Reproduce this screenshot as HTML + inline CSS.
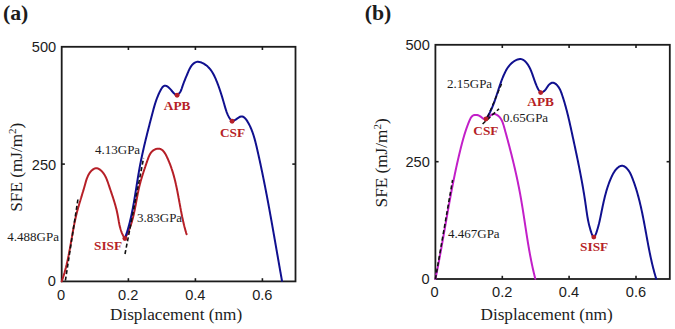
<!DOCTYPE html>
<html><head><meta charset="utf-8"><style>
html,body{margin:0;padding:0;background:#fff;}
body{width:675px;height:329px;overflow:hidden;}
svg{display:block;}
</style></head><body>
<svg width="675" height="329" viewBox="0 0 675 329">
<rect width="675" height="329" fill="#fff"/>
<text x="2.9" y="20.2" font-family="&quot;Liberation Serif&quot;, serif" font-size="21.8" font-weight="bold" text-anchor="start" fill="#1c1c1c" >(a)</text>
<text x="364.7" y="20.2" font-family="&quot;Liberation Serif&quot;, serif" font-size="21.8" font-weight="bold" text-anchor="start" fill="#1c1c1c" >(b)</text>
<rect x="61.7" y="46.8" width="233.80" height="234.60" fill="none" stroke="#1c1c1c" stroke-width="1.8"/>
<line x1="61.7" y1="164.1" x2="64.9" y2="164.1" stroke="#1c1c1c" stroke-width="1.6"/>
<line x1="295.5" y1="164.1" x2="292.3" y2="164.1" stroke="#1c1c1c" stroke-width="1.6"/>
<line x1="128.4" y1="281.4" x2="128.4" y2="278.2" stroke="#1c1c1c" stroke-width="1.6"/>
<line x1="128.4" y1="46.8" x2="128.4" y2="50.0" stroke="#1c1c1c" stroke-width="1.6"/>
<line x1="195.4" y1="281.4" x2="195.4" y2="278.2" stroke="#1c1c1c" stroke-width="1.6"/>
<line x1="195.4" y1="46.8" x2="195.4" y2="50.0" stroke="#1c1c1c" stroke-width="1.6"/>
<line x1="262.4" y1="281.4" x2="262.4" y2="278.2" stroke="#1c1c1c" stroke-width="1.6"/>
<line x1="262.4" y1="46.8" x2="262.4" y2="50.0" stroke="#1c1c1c" stroke-width="1.6"/>
<text x="56.2" y="51.7" font-family="&quot;Liberation Sans&quot;, sans-serif" font-size="14.6" font-weight="normal" text-anchor="end" fill="#1c1c1c" >500</text>
<text x="56.2" y="169.5" font-family="&quot;Liberation Sans&quot;, sans-serif" font-size="14.6" font-weight="normal" text-anchor="end" fill="#1c1c1c" >250</text>
<text x="55.8" y="286.3" font-family="&quot;Liberation Sans&quot;, sans-serif" font-size="14.6" font-weight="normal" text-anchor="end" fill="#1c1c1c" >0</text>
<text x="61.0" y="299.6" font-family="&quot;Liberation Sans&quot;, sans-serif" font-size="14.6" font-weight="normal" text-anchor="middle" fill="#1c1c1c" >0</text>
<text x="128.2" y="299.6" font-family="&quot;Liberation Sans&quot;, sans-serif" font-size="14.6" font-weight="normal" text-anchor="middle" fill="#1c1c1c" >0.2</text>
<text x="195.3" y="299.6" font-family="&quot;Liberation Sans&quot;, sans-serif" font-size="14.6" font-weight="normal" text-anchor="middle" fill="#1c1c1c" >0.4</text>
<text x="262.3" y="299.6" font-family="&quot;Liberation Sans&quot;, sans-serif" font-size="14.6" font-weight="normal" text-anchor="middle" fill="#1c1c1c" >0.6</text>
<text x="176.1" y="319.5" font-family="&quot;Liberation Serif&quot;, serif" font-size="17.2" font-weight="normal" text-anchor="middle" fill="#1c1c1c" >Displacement (nm)</text>
<text transform="translate(22.3,167.2) rotate(-90)" font-family="&quot;Liberation Serif&quot;, serif" font-size="17.2" text-anchor="middle" fill="#1c1c1c">SFE (mJ/m<tspan font-size="11" dy="-6">2</tspan><tspan dy="6">)</tspan></text>
<rect x="435.4" y="44.8" width="234.40" height="234.20" fill="none" stroke="#1c1c1c" stroke-width="1.8"/>
<line x1="435.4" y1="161.7" x2="438.59999999999997" y2="161.7" stroke="#1c1c1c" stroke-width="1.6"/>
<line x1="669.8" y1="161.7" x2="666.5999999999999" y2="161.7" stroke="#1c1c1c" stroke-width="1.6"/>
<line x1="502.3" y1="279.0" x2="502.3" y2="275.8" stroke="#1c1c1c" stroke-width="1.6"/>
<line x1="502.3" y1="44.8" x2="502.3" y2="48.0" stroke="#1c1c1c" stroke-width="1.6"/>
<line x1="569.1" y1="279.0" x2="569.1" y2="275.8" stroke="#1c1c1c" stroke-width="1.6"/>
<line x1="569.1" y1="44.8" x2="569.1" y2="48.0" stroke="#1c1c1c" stroke-width="1.6"/>
<line x1="636.0" y1="279.0" x2="636.0" y2="275.8" stroke="#1c1c1c" stroke-width="1.6"/>
<line x1="636.0" y1="44.8" x2="636.0" y2="48.0" stroke="#1c1c1c" stroke-width="1.6"/>
<text x="429.8" y="49.5" font-family="&quot;Liberation Sans&quot;, sans-serif" font-size="14.6" font-weight="normal" text-anchor="end" fill="#1c1c1c" >500</text>
<text x="429.8" y="166.8" font-family="&quot;Liberation Sans&quot;, sans-serif" font-size="14.6" font-weight="normal" text-anchor="end" fill="#1c1c1c" >250</text>
<text x="429.6" y="284.0" font-family="&quot;Liberation Sans&quot;, sans-serif" font-size="14.6" font-weight="normal" text-anchor="end" fill="#1c1c1c" >0</text>
<text x="434.6" y="297.3" font-family="&quot;Liberation Sans&quot;, sans-serif" font-size="14.6" font-weight="normal" text-anchor="middle" fill="#1c1c1c" >0</text>
<text x="502.2" y="297.3" font-family="&quot;Liberation Sans&quot;, sans-serif" font-size="14.6" font-weight="normal" text-anchor="middle" fill="#1c1c1c" >0.2</text>
<text x="569.0" y="297.3" font-family="&quot;Liberation Sans&quot;, sans-serif" font-size="14.6" font-weight="normal" text-anchor="middle" fill="#1c1c1c" >0.4</text>
<text x="636.0" y="297.3" font-family="&quot;Liberation Sans&quot;, sans-serif" font-size="14.6" font-weight="normal" text-anchor="middle" fill="#1c1c1c" >0.6</text>
<text x="546.6" y="319.6" font-family="&quot;Liberation Serif&quot;, serif" font-size="17.2" font-weight="normal" text-anchor="middle" fill="#1c1c1c" >Displacement (nm)</text>
<text transform="translate(386.9,162.9) rotate(-90)" font-family="&quot;Liberation Serif&quot;, serif" font-size="17.2" text-anchor="middle" fill="#1c1c1c">SFE (mJ/m<tspan font-size="11" dy="-6">2</tspan><tspan dy="6">)</tspan></text>
<path d="M61.70,281.40 L61.87,280.94 L62.03,280.47 L62.20,280.01 L62.36,279.54 L62.52,279.07 L62.68,278.61 L62.84,278.14 L62.99,277.67 L63.14,277.20 L63.30,276.73 L63.45,276.26 L63.59,275.79 L63.74,275.31 L63.89,274.84 L64.03,274.37 L64.17,273.89 L64.31,273.42 L64.45,272.94 L64.59,272.47 L64.72,271.99 L64.85,271.51 L64.99,271.03 L65.12,270.55 L65.25,270.07 L65.38,269.59 L65.50,269.11 L65.63,268.63 L65.75,268.15 L65.87,267.67 L66.00,267.19 L66.12,266.70 L66.24,266.22 L66.35,265.74 L66.47,265.25 L66.59,264.77 L66.70,264.28 L66.81,263.80 L66.92,263.31 L67.04,262.82 L67.15,262.33 L67.25,261.85 L67.36,261.36 L67.47,260.87 L67.57,260.38 L67.68,259.89 L67.78,259.40 L67.89,258.91 L67.99,258.42 L68.09,257.93 L68.19,257.44 L68.29,256.95 L68.39,256.46 L68.49,255.97 L68.59,255.48 L68.68,254.98 L68.78,254.49 L68.87,254.00 L68.97,253.51 L69.06,253.01 L69.16,252.52 L69.25,252.03 L69.34,251.53 L69.43,251.04 L69.53,250.54 L69.62,250.05 L69.71,249.56 L69.80,249.06 L69.89,248.57 L69.98,248.07 L70.06,247.58 L70.15,247.08 L70.24,246.59 L70.33,246.09 L70.42,245.59 L70.50,245.10 L70.59,244.60 L70.68,244.11 L70.76,243.61 L70.85,243.12 L70.94,242.62 L71.02,242.13 L71.11,241.63 L71.19,241.13 L71.28,240.64 L71.37,240.14 L71.45,239.65 L71.54,239.15 L71.62,238.66 L71.71,238.16 L71.80,237.67 L71.88,237.17 L71.97,236.68 L72.05,236.18 L72.14,235.69 L72.23,235.19 L72.32,234.70 L72.40,234.20 L72.49,233.71 L72.58,233.22 L72.67,232.72 L72.75,232.23 L72.84,231.73 L72.93,231.24 L73.02,230.75 L73.11,230.26 L73.20,229.76 L73.29,229.27 L73.38,228.78 L73.48,228.29 L73.57,227.80 L73.66,227.30 L73.75,226.81 L73.85,226.32 L73.94,225.83 L74.04,225.34 L74.13,224.85 L74.23,224.36 L74.33,223.87 L74.43,223.39 L74.53,222.90 L74.63,222.41 L74.73,221.92 L74.83,221.44 L74.93,220.95 L75.03,220.46 L75.14,219.98 L75.24,219.49 L75.35,219.01 L75.45,218.52 L75.56,218.04 L75.67,217.56 L75.78,217.07 L75.89,216.59 L76.00,216.11 L76.12,215.63 L76.23,215.15 L76.35,214.67 L76.46,214.19 L76.58,213.71 L76.70,213.23 L76.82,212.75 L76.94,212.28 L77.06,211.80 L77.19,211.32 L77.31,210.85 L77.44,210.37 L77.57,209.90 L77.70,209.43 L77.83,208.95 L77.96,208.48 L78.09,208.01 L78.22,207.53 L78.36,207.06 L78.49,206.59 L78.63,206.12 L78.76,205.65 L78.90,205.17 L79.04,204.70 L79.18,204.23 L79.32,203.76 L79.46,203.29 L79.60,202.82 L79.74,202.34 L79.88,201.87 L80.02,201.40 L80.17,200.93 L80.31,200.45 L80.45,199.98 L80.60,199.51 L80.74,199.03 L80.89,198.56 L81.03,198.08 L81.18,197.61 L81.32,197.13 L81.47,196.66 L81.62,196.18 L81.76,195.70 L81.91,195.22 L82.05,194.74 L82.20,194.26 L82.35,193.78 L82.49,193.30 L82.64,192.81 L82.78,192.33 L82.93,191.85 L83.07,191.36 L83.22,190.87 L83.36,190.38 L83.51,189.89 L83.65,189.40 L83.79,188.91 L83.93,188.42 L84.08,187.92 L84.22,187.43 L84.36,186.93 L84.50,186.43 L84.64,185.93 L84.78,185.43 L84.92,184.93 L85.06,184.42 L85.20,183.92 L85.34,183.41 L85.48,182.91 L85.63,182.41 L85.77,181.91 L85.92,181.41 L86.07,180.91 L86.23,180.42 L86.39,179.93 L86.55,179.44 L86.72,178.95 L86.90,178.47 L87.07,178.00 L87.26,177.52 L87.45,177.06 L87.65,176.59 L87.85,176.14 L88.06,175.69 L88.28,175.24 L88.51,174.81 L88.74,174.38 L88.99,173.96 L89.24,173.54 L89.50,173.14 L89.77,172.74 L90.06,172.35 L90.35,171.98 L90.66,171.61 L90.97,171.25 L91.30,170.90 L91.64,170.57 L92.00,170.24 L92.36,169.93 L92.74,169.63 L93.13,169.35 L93.53,169.09 L93.94,168.86 L94.36,168.65 L94.78,168.48 L95.21,168.35 L95.64,168.25 L96.08,168.21 L96.52,168.21 L96.95,168.26 L97.39,168.35 L97.83,168.49 L98.26,168.66 L98.68,168.87 L99.10,169.11 L99.52,169.37 L99.92,169.65 L100.32,169.96 L100.71,170.28 L101.08,170.61 L101.44,170.95 L101.79,171.29 L102.13,171.65 L102.46,172.02 L102.78,172.40 L103.09,172.78 L103.39,173.18 L103.68,173.58 L103.96,173.99 L104.23,174.40 L104.49,174.83 L104.75,175.26 L104.99,175.69 L105.23,176.13 L105.47,176.58 L105.69,177.03 L105.91,177.49 L106.12,177.95 L106.33,178.42 L106.54,178.89 L106.73,179.36 L106.93,179.84 L107.11,180.32 L107.30,180.80 L107.48,181.28 L107.66,181.77 L107.83,182.26 L108.00,182.74 L108.17,183.23 L108.34,183.72 L108.50,184.21 L108.67,184.71 L108.83,185.20 L108.99,185.68 L109.16,186.17 L109.32,186.66 L109.48,187.14 L109.64,187.63 L109.80,188.11 L109.97,188.59 L110.13,189.07 L110.29,189.55 L110.45,190.03 L110.61,190.51 L110.77,190.98 L110.94,191.46 L111.10,191.93 L111.26,192.41 L111.42,192.88 L111.57,193.35 L111.73,193.82 L111.89,194.29 L112.05,194.76 L112.21,195.23 L112.36,195.70 L112.52,196.17 L112.67,196.63 L112.83,197.10 L112.98,197.57 L113.13,198.04 L113.28,198.50 L113.43,198.97 L113.58,199.44 L113.73,199.91 L113.88,200.37 L114.02,200.84 L114.17,201.31 L114.31,201.78 L114.45,202.24 L114.60,202.71 L114.74,203.18 L114.87,203.65 L115.01,204.12 L115.15,204.59 L115.28,205.06 L115.41,205.53 L115.54,206.00 L115.67,206.48 L115.80,206.95 L115.93,207.42 L116.05,207.90 L116.18,208.38 L116.30,208.85 L116.42,209.33 L116.53,209.81 L116.65,210.29 L116.76,210.78 L116.87,211.26 L116.98,211.74 L117.09,212.23 L117.19,212.72 L117.30,213.21 L117.40,213.70 L117.50,214.19 L117.59,214.68 L117.69,215.18 L117.78,215.68 L117.87,216.17 L117.96,216.67 L118.05,217.17 L118.14,217.67 L118.23,218.17 L118.32,218.68 L118.40,219.18 L118.49,219.68 L118.58,220.18 L118.67,220.68 L118.76,221.18 L118.85,221.69 L118.95,222.19 L119.04,222.69 L119.14,223.19 L119.24,223.68 L119.34,224.18 L119.44,224.68 L119.55,225.17 L119.66,225.67 L119.77,226.16 L119.89,226.65 L120.01,227.14 L120.13,227.63 L120.26,228.11 L120.40,228.60 L120.53,229.08 L120.68,229.55 L120.82,230.03 L120.98,230.50 L121.13,230.97 L121.30,231.44 L121.47,231.90 L121.64,232.36 L121.83,232.82 L122.02,233.28 L122.21,233.73 L122.42,234.17 L122.63,234.61 L122.85,235.05 L123.07,235.49 L123.31,235.92 L123.55,236.34 L123.80,236.76 L124.06,237.18 L124.33,237.59 L124.61,238.00 L124.90,238.40" fill="none" stroke="#b61f27" stroke-width="2.0" stroke-linejoin="round" stroke-linecap="round" />
<path d="M124.90,238.40 L125.14,237.98 L125.38,237.57 L125.62,237.15 L125.85,236.73 L126.08,236.31 L126.30,235.88 L126.53,235.46 L126.74,235.03 L126.96,234.60 L127.17,234.18 L127.38,233.75 L127.58,233.31 L127.78,232.88 L127.98,232.45 L128.17,232.01 L128.36,231.57 L128.55,231.14 L128.74,230.70 L128.92,230.26 L129.10,229.81 L129.27,229.37 L129.45,228.93 L129.62,228.48 L129.79,228.03 L129.95,227.59 L130.11,227.14 L130.27,226.69 L130.43,226.24 L130.58,225.79 L130.74,225.33 L130.89,224.88 L131.03,224.43 L131.18,223.97 L131.32,223.51 L131.46,223.06 L131.60,222.60 L131.74,222.14 L131.87,221.68 L132.00,221.22 L132.13,220.76 L132.26,220.30 L132.39,219.83 L132.51,219.37 L132.63,218.91 L132.75,218.44 L132.87,217.98 L132.99,217.51 L133.11,217.04 L133.22,216.57 L133.33,216.11 L133.44,215.64 L133.55,215.17 L133.66,214.70 L133.77,214.23 L133.87,213.76 L133.98,213.29 L134.08,212.82 L134.18,212.34 L134.28,211.87 L134.38,211.40 L134.48,210.93 L134.58,210.45 L134.67,209.98 L134.77,209.51 L134.86,209.03 L134.96,208.56 L135.05,208.08 L135.14,207.61 L135.24,207.13 L135.33,206.66 L135.42,206.18 L135.51,205.71 L135.60,205.23 L135.69,204.75 L135.78,204.28 L135.87,203.80 L135.96,203.33 L136.04,202.85 L136.13,202.37 L136.22,201.90 L136.31,201.42 L136.40,200.95 L136.48,200.47 L136.57,200.00 L136.66,199.52 L136.75,199.05 L136.84,198.57 L136.93,198.10 L137.01,197.62 L137.10,197.15 L137.19,196.67 L137.28,196.20 L137.37,195.73 L137.46,195.25 L137.56,194.78 L137.65,194.31 L137.74,193.83 L137.84,193.36 L137.93,192.89 L138.03,192.42 L138.12,191.95 L138.22,191.48 L138.32,191.01 L138.42,190.54 L138.52,190.07 L138.62,189.61 L138.72,189.14 L138.82,188.67 L138.93,188.21 L139.03,187.74 L139.14,187.28 L139.25,186.81 L139.36,186.35 L139.47,185.89 L139.58,185.43 L139.70,184.96 L139.81,184.50 L139.93,184.04 L140.05,183.59 L140.17,183.13 L140.29,182.67 L140.41,182.21 L140.54,181.76 L140.66,181.30 L140.79,180.84 L140.92,180.39 L141.05,179.93 L141.18,179.48 L141.31,179.02 L141.45,178.57 L141.58,178.11 L141.71,177.66 L141.85,177.21 L141.99,176.75 L142.13,176.30 L142.27,175.85 L142.41,175.39 L142.55,174.94 L142.69,174.49 L142.84,174.03 L142.98,173.58 L143.13,173.13 L143.27,172.67 L143.42,172.22 L143.57,171.77 L143.72,171.31 L143.87,170.86 L144.02,170.40 L144.17,169.95 L144.32,169.49 L144.47,169.03 L144.63,168.58 L144.78,168.12 L144.94,167.66 L145.09,167.20 L145.25,166.75 L145.40,166.29 L145.56,165.83 L145.72,165.37 L145.88,164.91 L146.04,164.44 L146.20,163.98 L146.36,163.52 L146.52,163.05 L146.68,162.59 L146.84,162.12 L147.00,161.65 L147.16,161.19 L147.32,160.72 L147.48,160.25 L147.65,159.78 L147.81,159.31 L147.98,158.84 L148.14,158.37 L148.32,157.90 L148.49,157.43 L148.67,156.97 L148.86,156.51 L149.05,156.06 L149.26,155.61 L149.47,155.17 L149.69,154.74 L149.91,154.32 L150.15,153.90 L150.41,153.49 L150.67,153.09 L150.95,152.71 L151.24,152.33 L151.55,151.97 L151.87,151.62 L152.21,151.29 L152.56,150.97 L152.94,150.66 L153.33,150.37 L153.74,150.10 L154.17,149.84 L154.62,149.61 L155.07,149.40 L155.54,149.21 L156.01,149.04 L156.48,148.90 L156.95,148.79 L157.41,148.70 L157.87,148.65 L158.32,148.63 L158.76,148.64 L159.18,148.68 L159.59,148.75 L159.99,148.85 L160.38,148.98 L160.76,149.14 L161.13,149.32 L161.49,149.52 L161.83,149.75 L162.17,150.01 L162.50,150.28 L162.82,150.57 L163.13,150.89 L163.43,151.22 L163.73,151.56 L164.01,151.93 L164.29,152.30 L164.57,152.69 L164.83,153.10 L165.09,153.51 L165.35,153.94 L165.60,154.37 L165.84,154.81 L166.08,155.26 L166.31,155.71 L166.54,156.17 L166.76,156.63 L166.98,157.09 L167.20,157.56 L167.41,158.02 L167.62,158.48 L167.83,158.95 L168.03,159.41 L168.24,159.87 L168.44,160.33 L168.63,160.79 L168.83,161.25 L169.02,161.71 L169.20,162.17 L169.39,162.62 L169.57,163.08 L169.75,163.54 L169.93,163.99 L170.11,164.45 L170.28,164.91 L170.45,165.36 L170.62,165.82 L170.79,166.27 L170.95,166.73 L171.11,167.18 L171.27,167.63 L171.43,168.09 L171.58,168.54 L171.73,169.00 L171.89,169.45 L172.03,169.90 L172.18,170.36 L172.33,170.81 L172.47,171.27 L172.61,171.72 L172.75,172.17 L172.89,172.63 L173.02,173.08 L173.16,173.54 L173.29,173.99 L173.42,174.45 L173.55,174.90 L173.68,175.36 L173.80,175.81 L173.93,176.27 L174.05,176.72 L174.17,177.18 L174.29,177.64 L174.41,178.09 L174.53,178.55 L174.65,179.01 L174.76,179.47 L174.88,179.93 L174.99,180.39 L175.10,180.85 L175.21,181.31 L175.32,181.77 L175.43,182.23 L175.54,182.70 L175.65,183.16 L175.75,183.62 L175.86,184.09 L175.96,184.55 L176.06,185.02 L176.17,185.48 L176.27,185.95 L176.37,186.42 L176.47,186.88 L176.57,187.35 L176.66,187.82 L176.76,188.29 L176.86,188.76 L176.95,189.22 L177.05,189.69 L177.15,190.16 L177.24,190.63 L177.33,191.10 L177.43,191.57 L177.52,192.05 L177.61,192.52 L177.70,192.99 L177.79,193.46 L177.88,193.93 L177.97,194.40 L178.06,194.88 L178.15,195.35 L178.24,195.82 L178.33,196.29 L178.42,196.77 L178.51,197.24 L178.59,197.72 L178.68,198.19 L178.77,198.66 L178.86,199.14 L178.94,199.61 L179.03,200.09 L179.12,200.56 L179.20,201.03 L179.29,201.51 L179.38,201.98 L179.46,202.46 L179.55,202.93 L179.64,203.41 L179.72,203.88 L179.81,204.36 L179.90,204.83 L179.98,205.31 L180.07,205.78 L180.16,206.26 L180.25,206.73 L180.33,207.21 L180.42,207.68 L180.51,208.16 L180.60,208.63 L180.69,209.11 L180.78,209.58 L180.87,210.05 L180.95,210.53 L181.05,211.00 L181.14,211.48 L181.23,211.95 L181.32,212.42 L181.41,212.90 L181.50,213.37 L181.60,213.84 L181.69,214.32 L181.78,214.79 L181.88,215.26 L181.98,215.73 L182.07,216.21 L182.17,216.68 L182.27,217.15 L182.36,217.62 L182.46,218.09 L182.56,218.56 L182.66,219.03 L182.77,219.50 L182.87,219.97 L182.97,220.44 L183.08,220.91 L183.18,221.38 L183.29,221.85 L183.39,222.31 L183.50,222.78 L183.61,223.25 L183.72,223.71 L183.83,224.18 L183.95,224.65 L184.06,225.11 L184.17,225.58 L184.29,226.04 L184.41,226.50 L184.52,226.97 L184.64,227.43 L184.76,227.89 L184.89,228.35 L185.01,228.81 L185.13,229.27 L185.26,229.73 L185.39,230.19 L185.52,230.65 L185.65,231.11 L185.78,231.57 L185.91,232.02 L186.05,232.48 L186.18,232.94 L186.32,233.39 L186.46,233.85 L186.60,234.30" fill="none" stroke="#b61f27" stroke-width="2.0" stroke-linejoin="round" stroke-linecap="round" />
<path d="M124.90,238.40 L125.30,237.29 L125.69,236.17 L126.06,235.05 L126.43,233.94 L126.79,232.81 L127.15,231.69 L127.49,230.56 L127.82,229.44 L128.15,228.31 L128.47,227.18 L128.78,226.04 L129.09,224.91 L129.38,223.77 L129.67,222.63 L129.96,221.49 L130.23,220.35 L130.51,219.21 L130.77,218.06 L131.03,216.92 L131.28,215.77 L131.53,214.62 L131.77,213.47 L132.01,212.32 L132.25,211.17 L132.47,210.02 L132.70,208.86 L132.92,207.71 L133.14,206.55 L133.35,205.40 L133.56,204.24 L133.77,203.08 L133.97,201.92 L134.17,200.76 L134.37,199.60 L134.56,198.44 L134.76,197.27 L134.95,196.11 L135.14,194.95 L135.33,193.78 L135.51,192.62 L135.70,191.45 L135.88,190.29 L136.07,189.12 L136.25,187.96 L136.44,186.79 L136.62,185.63 L136.80,184.46 L136.99,183.30 L137.17,182.13 L137.36,180.96 L137.55,179.80 L137.74,178.63 L137.93,177.47 L138.12,176.30 L138.31,175.14 L138.51,173.97 L138.71,172.81 L138.91,171.65 L139.11,170.48 L139.32,169.32 L139.53,168.16 L139.75,167.00 L139.96,165.84 L140.18,164.68 L140.41,163.52 L140.64,162.36 L140.87,161.20 L141.10,160.05 L141.34,158.89 L141.58,157.73 L141.82,156.58 L142.07,155.42 L142.32,154.27 L142.57,153.12 L142.83,151.96 L143.08,150.81 L143.34,149.66 L143.60,148.51 L143.87,147.36 L144.13,146.21 L144.40,145.06 L144.67,143.91 L144.95,142.77 L145.22,141.62 L145.50,140.47 L145.77,139.33 L146.05,138.18 L146.34,137.04 L146.62,135.89 L146.90,134.75 L147.19,133.61 L147.47,132.47 L147.76,131.33 L148.05,130.18 L148.34,129.04 L148.63,127.91 L148.92,126.77 L149.22,125.63 L149.51,124.49 L149.80,123.35 L150.10,122.22 L150.39,121.08 L150.69,119.95 L150.98,118.81 L151.28,117.68 L151.57,116.54 L151.87,115.41 L152.17,114.28 L152.46,113.15 L152.76,112.02 L153.06,110.89 L153.36,109.76 L153.66,108.63 L153.98,107.50 L154.30,106.37 L154.63,105.24 L154.96,104.12 L155.32,102.99 L155.68,101.87 L156.06,100.74 L156.45,99.62 L156.86,98.50 L157.30,97.38 L157.75,96.26 L158.22,95.14 L158.71,94.02 L159.23,92.90 L159.78,91.79 L160.35,90.67 L160.95,89.56 L161.58,88.50 L162.25,87.52 L162.96,86.70 L163.71,86.07 L164.52,85.70 L165.37,85.63 L166.28,85.86 L167.21,86.35 L168.17,87.06 L169.14,87.92 L170.09,88.90 L171.02,89.95 L171.92,91.01 L172.79,92.03 L173.64,92.97 L174.48,93.76 L175.32,94.35 L176.16,94.69 L177.02,94.73 L177.89,94.42 L178.74,93.82 L179.53,92.99 L180.22,92.00 L180.80,90.91 L181.29,89.75 L181.73,88.55 L182.13,87.33 L182.53,86.14 L182.93,84.98 L183.34,83.85 L183.75,82.75 L184.17,81.67 L184.59,80.60 L185.02,79.54 L185.45,78.49 L185.89,77.44 L186.33,76.38 L186.77,75.33 L187.23,74.26 L187.68,73.17 L188.14,72.07 L188.62,70.95 L189.12,69.84 L189.66,68.74 L190.24,67.67 L190.88,66.62 L191.58,65.63 L192.33,64.70 L193.14,63.87 L194.01,63.15 L194.94,62.56 L195.92,62.13 L196.95,61.86 L198.04,61.79 L199.17,61.90 L200.32,62.17 L201.48,62.56 L202.63,63.07 L203.75,63.68 L204.84,64.35 L205.86,65.06 L206.83,65.82 L207.73,66.61 L208.59,67.44 L209.39,68.29 L210.14,69.18 L210.85,70.10 L211.52,71.03 L212.15,72.00 L212.75,72.98 L213.32,73.98 L213.86,75.00 L214.37,76.04 L214.87,77.09 L215.35,78.15 L215.81,79.21 L216.27,80.29 L216.71,81.37 L217.15,82.45 L217.58,83.55 L217.99,84.64 L218.40,85.75 L218.81,86.85 L219.20,87.97 L219.59,89.08 L219.97,90.20 L220.34,91.32 L220.71,92.45 L221.07,93.58 L221.43,94.71 L221.78,95.85 L222.13,96.99 L222.47,98.12 L222.81,99.27 L223.14,100.41 L223.48,101.55 L223.80,102.69 L224.13,103.84 L224.45,104.98 L224.78,106.12 L225.11,107.26 L225.45,108.40 L225.80,109.53 L226.17,110.66 L226.56,111.78 L226.98,112.88 L227.43,113.98 L227.92,115.07 L228.44,116.14 L229.01,117.20 L229.63,118.24 L230.30,119.22 L231.03,120.05 L231.83,120.62 L232.70,120.85 L233.64,120.70 L234.64,120.26 L235.69,119.61 L236.77,118.84 L237.87,118.05 L238.98,117.33 L240.08,116.76 L241.16,116.44 L242.21,116.45 L243.22,116.81 L244.17,117.43 L245.05,118.23 L245.86,119.14 L246.59,120.11 L247.26,121.13 L247.88,122.17 L248.48,123.22 L249.04,124.28 L249.59,125.35 L250.11,126.42 L250.60,127.51 L251.08,128.59 L251.53,129.69 L251.96,130.79 L252.38,131.89 L252.77,133.00 L253.15,134.11 L253.52,135.23 L253.87,136.36 L254.20,137.48 L254.53,138.61 L254.84,139.75 L255.15,140.88 L255.44,142.02 L255.73,143.16 L256.01,144.30 L256.28,145.45 L256.56,146.59 L256.82,147.74 L257.09,148.89 L257.35,150.04 L257.61,151.18 L257.87,152.33 L258.13,153.48 L258.39,154.63 L258.64,155.78 L258.90,156.93 L259.15,158.08 L259.40,159.23 L259.66,160.38 L259.91,161.53 L260.15,162.68 L260.40,163.83 L260.65,164.99 L260.89,166.14 L261.14,167.29 L261.38,168.44 L261.62,169.60 L261.86,170.75 L262.10,171.90 L262.34,173.06 L262.58,174.21 L262.81,175.36 L263.05,176.52 L263.28,177.67 L263.52,178.83 L263.75,179.98 L263.98,181.14 L264.21,182.29 L264.44,183.45 L264.67,184.61 L264.90,185.76 L265.12,186.92 L265.35,188.08 L265.57,189.23 L265.80,190.39 L266.02,191.55 L266.24,192.70 L266.47,193.86 L266.69,195.02 L266.91,196.18 L267.13,197.34 L267.35,198.49 L267.56,199.65 L267.78,200.81 L268.00,201.97 L268.22,203.13 L268.43,204.29 L268.65,205.45 L268.86,206.61 L269.07,207.77 L269.29,208.93 L269.50,210.09 L269.71,211.25 L269.92,212.41 L270.13,213.57 L270.34,214.73 L270.55,215.89 L270.76,217.05 L270.97,218.21 L271.18,219.37 L271.39,220.53 L271.60,221.69 L271.80,222.85 L272.01,224.01 L272.22,225.17 L272.42,226.34 L272.63,227.50 L272.83,228.66 L273.04,229.82 L273.24,230.98 L273.45,232.14 L273.65,233.30 L273.86,234.46 L274.06,235.63 L274.26,236.79 L274.47,237.95 L274.67,239.11 L274.87,240.27 L275.08,241.43 L275.28,242.60 L275.48,243.76 L275.68,244.92 L275.89,246.08 L276.09,247.24 L276.29,248.40 L276.49,249.56 L276.70,250.73 L276.90,251.89 L277.10,253.05 L277.30,254.21 L277.51,255.37 L277.71,256.53 L277.91,257.69 L278.11,258.86 L278.32,260.02 L278.52,261.18 L278.72,262.34 L278.93,263.50 L279.13,264.66 L279.33,265.82 L279.54,266.98 L279.74,268.14 L279.94,269.30 L280.15,270.46 L280.35,271.62 L280.56,272.78 L280.76,273.94 L280.97,275.10 L281.17,276.26 L281.38,277.42 L281.59,278.58 L281.79,279.74 L282.00,280.90" fill="none" stroke="#10108f" stroke-width="2.0" stroke-linejoin="round" stroke-linecap="round" />
<line x1="65.4" y1="280.5" x2="77.9" y2="199.5" stroke="#111" stroke-width="1.6" stroke-dasharray="4,2.5"/>
<line x1="125.0" y1="254.0" x2="143.6" y2="158.0" stroke="#111" stroke-width="1.6" stroke-dasharray="4,2.5"/>
<circle cx="124.9" cy="238.5" r="2.45" fill="#b61f27"/>
<circle cx="177.1" cy="95.2" r="2.45" fill="#b61f27"/>
<circle cx="232.1" cy="121.3" r="2.45" fill="#b61f27"/>
<text x="95.0" y="154.3" font-family="&quot;Liberation Serif&quot;, serif" font-size="13" font-weight="normal" text-anchor="start" fill="#1c1c1c" >4.13GPa</text>
<text x="137.0" y="222.4" font-family="&quot;Liberation Serif&quot;, serif" font-size="13" font-weight="normal" text-anchor="start" fill="#1c1c1c" >3.83GPa</text>
<text x="7.3" y="240.8" font-family="&quot;Liberation Serif&quot;, serif" font-size="13" font-weight="normal" text-anchor="start" fill="#1c1c1c" >4.488GPa</text>
<text x="94.0" y="249.7" font-family="&quot;Liberation Serif&quot;, serif" font-size="13.3" font-weight="bold" text-anchor="start" fill="#b61f27" >SISF</text>
<text x="163.8" y="109.9" font-family="&quot;Liberation Serif&quot;, serif" font-size="13.3" font-weight="bold" text-anchor="start" fill="#b61f27" >APB</text>
<text x="220.0" y="136.9" font-family="&quot;Liberation Serif&quot;, serif" font-size="13.3" font-weight="bold" text-anchor="start" fill="#b61f27" >CSF</text>
<path d="M435.40,279.00 L435.59,278.11 L435.77,277.21 L435.95,276.32 L436.14,275.42 L436.32,274.53 L436.50,273.63 L436.68,272.74 L436.86,271.84 L437.04,270.94 L437.22,270.05 L437.39,269.15 L437.57,268.25 L437.74,267.36 L437.92,266.46 L438.09,265.56 L438.26,264.66 L438.44,263.76 L438.61,262.87 L438.78,261.97 L438.95,261.07 L439.12,260.17 L439.29,259.27 L439.46,258.37 L439.62,257.47 L439.79,256.57 L439.96,255.67 L440.12,254.77 L440.29,253.87 L440.45,252.97 L440.62,252.07 L440.78,251.16 L440.94,250.26 L441.11,249.36 L441.27,248.46 L441.43,247.56 L441.59,246.66 L441.76,245.75 L441.92,244.85 L442.08,243.95 L442.24,243.05 L442.40,242.15 L442.56,241.24 L442.72,240.34 L442.88,239.44 L443.04,238.53 L443.20,237.63 L443.35,236.73 L443.51,235.83 L443.67,234.92 L443.83,234.02 L443.99,233.12 L444.14,232.21 L444.30,231.31 L444.46,230.41 L444.62,229.50 L444.78,228.60 L444.93,227.69 L445.09,226.79 L445.25,225.89 L445.41,224.98 L445.56,224.08 L445.72,223.18 L445.88,222.27 L446.04,221.37 L446.19,220.47 L446.35,219.56 L446.51,218.66 L446.67,217.76 L446.83,216.85 L446.98,215.95 L447.14,215.05 L447.30,214.14 L447.46,213.24 L447.62,212.34 L447.78,211.43 L447.94,210.53 L448.10,209.63 L448.26,208.73 L448.42,207.82 L448.58,206.92 L448.74,206.02 L448.91,205.12 L449.07,204.21 L449.23,203.31 L449.39,202.41 L449.56,201.51 L449.72,200.61 L449.89,199.71 L450.05,198.80 L450.22,197.90 L450.38,197.00 L450.55,196.10 L450.72,195.20 L450.89,194.30 L451.05,193.40 L451.22,192.50 L451.39,191.60 L451.56,190.70 L451.74,189.80 L451.91,188.90 L452.08,188.00 L452.25,187.10 L452.43,186.21 L452.60,185.31 L452.78,184.41 L452.95,183.51 L453.13,182.61 L453.31,181.72 L453.49,180.82 L453.67,179.92 L453.85,179.03 L454.03,178.13 L454.21,177.23 L454.39,176.34 L454.58,175.44 L454.76,174.55 L454.95,173.65 L455.13,172.76 L455.32,171.86 L455.51,170.97 L455.70,170.08 L455.89,169.18 L456.08,168.29 L456.28,167.40 L456.47,166.51 L456.67,165.61 L456.86,164.72 L457.06,163.83 L457.26,162.94 L457.46,162.05 L457.66,161.16 L457.86,160.27 L458.07,159.38 L458.27,158.49 L458.48,157.61 L458.69,156.72 L458.90,155.83 L459.11,154.94 L459.32,154.06 L459.53,153.17 L459.75,152.29 L459.96,151.40 L460.18,150.52 L460.40,149.63 L460.62,148.75 L460.84,147.86 L461.06,146.98 L461.29,146.10 L461.51,145.22 L461.74,144.33 L461.97,143.45 L462.20,142.57 L462.44,141.69 L462.68,140.81 L462.92,139.93 L463.16,139.05 L463.41,138.17 L463.67,137.29 L463.92,136.41 L464.18,135.53 L464.45,134.66 L464.72,133.78 L465.00,132.90 L465.28,132.02 L465.56,131.14 L465.85,130.26 L466.15,129.38 L466.45,128.50 L466.76,127.62 L467.08,126.74 L467.40,125.86 L467.73,124.98 L468.07,124.10 L468.42,123.22 L468.77,122.34 L469.13,121.46 L469.50,120.58 L469.88,119.70 L470.28,118.85 L470.71,118.03 L471.19,117.28 L471.71,116.60 L472.30,116.01 L472.95,115.54 L473.69,115.19 L474.49,114.97 L475.35,114.88 L476.24,114.90 L477.15,115.04 L478.07,115.28 L478.98,115.63 L479.85,116.07 L480.68,116.61 L481.45,117.22 L482.19,117.85 L482.91,118.42 L483.64,118.86 L484.40,119.14 L485.16,119.23 L485.92,119.10 L486.67,118.77 L487.42,118.26 L488.17,117.64 L488.93,116.94 L489.70,116.23 L490.48,115.54 L491.28,114.92 L492.10,114.43 L492.94,114.11 L493.81,114.00 L494.69,114.08 L495.56,114.32 L496.40,114.67 L497.20,115.10 L497.93,115.59 L498.61,116.13 L499.24,116.71 L499.81,117.34 L500.34,118.01 L500.82,118.72 L501.27,119.46 L501.68,120.23 L502.06,121.03 L502.41,121.85 L502.74,122.70 L503.04,123.56 L503.33,124.44 L503.60,125.33 L503.87,126.22 L504.12,127.13 L504.37,128.03 L504.63,128.93 L504.88,129.83 L505.13,130.74 L505.37,131.64 L505.62,132.54 L505.87,133.43 L506.12,134.33 L506.36,135.23 L506.61,136.13 L506.85,137.03 L507.09,137.92 L507.34,138.82 L507.58,139.71 L507.82,140.61 L508.06,141.50 L508.29,142.39 L508.53,143.29 L508.77,144.18 L509.00,145.07 L509.24,145.96 L509.47,146.86 L509.70,147.75 L509.94,148.64 L510.17,149.53 L510.40,150.42 L510.62,151.31 L510.85,152.20 L511.08,153.09 L511.30,153.98 L511.53,154.86 L511.75,155.75 L511.97,156.64 L512.19,157.53 L512.41,158.42 L512.63,159.31 L512.85,160.19 L513.07,161.08 L513.28,161.97 L513.49,162.86 L513.71,163.74 L513.92,164.63 L514.13,165.52 L514.34,166.41 L514.55,167.30 L514.75,168.18 L514.96,169.07 L515.16,169.96 L515.36,170.85 L515.56,171.73 L515.76,172.62 L515.96,173.51 L516.16,174.40 L516.36,175.29 L516.55,176.18 L516.75,177.07 L516.94,177.96 L517.13,178.85 L517.32,179.74 L517.51,180.63 L517.69,181.52 L517.88,182.41 L518.06,183.30 L518.24,184.19 L518.42,185.08 L518.60,185.98 L518.78,186.87 L518.96,187.76 L519.13,188.66 L519.30,189.55 L519.48,190.45 L519.65,191.34 L519.82,192.24 L519.98,193.14 L520.15,194.03 L520.31,194.93 L520.47,195.83 L520.64,196.73 L520.79,197.63 L520.95,198.53 L521.11,199.43 L521.27,200.33 L521.42,201.23 L521.57,202.14 L521.72,203.04 L521.87,203.94 L522.02,204.85 L522.17,205.75 L522.32,206.65 L522.47,207.56 L522.61,208.46 L522.76,209.37 L522.90,210.28 L523.05,211.18 L523.19,212.09 L523.33,213.00 L523.47,213.90 L523.61,214.81 L523.75,215.72 L523.89,216.63 L524.03,217.53 L524.17,218.44 L524.31,219.35 L524.45,220.26 L524.59,221.17 L524.73,222.08 L524.87,222.99 L525.01,223.89 L525.14,224.80 L525.28,225.71 L525.42,226.62 L525.56,227.53 L525.70,228.44 L525.84,229.35 L525.98,230.26 L526.12,231.17 L526.26,232.08 L526.40,232.98 L526.54,233.89 L526.68,234.80 L526.82,235.71 L526.97,236.62 L527.11,237.53 L527.26,238.43 L527.40,239.34 L527.55,240.25 L527.69,241.16 L527.84,242.06 L527.99,242.97 L528.14,243.88 L528.29,244.78 L528.44,245.69 L528.60,246.59 L528.75,247.50 L528.91,248.40 L529.06,249.31 L529.22,250.21 L529.38,251.11 L529.54,252.02 L529.70,252.92 L529.87,253.82 L530.04,254.72 L530.20,255.62 L530.37,256.52 L530.54,257.42 L530.72,258.32 L530.89,259.22 L531.07,260.12 L531.25,261.01 L531.43,261.91 L531.61,262.81 L531.79,263.70 L531.98,264.60 L532.17,265.49 L532.36,266.38 L532.55,267.28 L532.75,268.17 L532.95,269.06 L533.15,269.95 L533.35,270.84 L533.56,271.73 L533.77,272.61 L533.98,273.50 L534.19,274.39 L534.41,275.27 L534.63,276.15 L534.85,277.04 L535.07,277.92 L535.30,278.80" fill="none" stroke="#c21fc8" stroke-width="2.0" stroke-linejoin="round" stroke-linecap="round" />
<path d="M485.90,119.20 L486.58,118.19 L487.24,117.16 L487.88,116.12 L488.49,115.07 L489.08,114.00 L489.65,112.92 L490.20,111.83 L490.73,110.73 L491.25,109.62 L491.75,108.50 L492.23,107.37 L492.70,106.23 L493.16,105.08 L493.60,103.93 L494.03,102.78 L494.46,101.61 L494.87,100.44 L495.28,99.27 L495.68,98.10 L496.07,96.92 L496.46,95.74 L496.85,94.56 L497.23,93.37 L497.61,92.19 L497.99,91.01 L498.38,89.83 L498.76,88.65 L499.14,87.48 L499.53,86.30 L499.93,85.13 L500.33,83.97 L500.74,82.81 L501.15,81.66 L501.57,80.51 L502.01,79.37 L502.45,78.24 L502.91,77.12 L503.38,76.01 L503.87,74.91 L504.37,73.81 L504.88,72.73 L505.42,71.66 L505.97,70.61 L506.55,69.57 L507.17,68.54 L507.83,67.54 L508.53,66.55 L509.30,65.59 L510.13,64.65 L511.02,63.74 L512.00,62.85 L513.05,62.00 L514.15,61.22 L515.30,60.52 L516.47,59.93 L517.65,59.48 L518.83,59.17 L519.98,59.04 L521.10,59.11 L522.17,59.39 L523.18,59.86 L524.15,60.49 L525.06,61.24 L525.91,62.11 L526.72,63.05 L527.47,64.04 L528.16,65.08 L528.81,66.15 L529.41,67.25 L529.98,68.38 L530.51,69.52 L531.00,70.68 L531.47,71.84 L531.91,73.01 L532.34,74.18 L532.75,75.34 L533.14,76.49 L533.54,77.63 L533.93,78.76 L534.32,79.89 L534.72,81.02 L535.14,82.15 L535.57,83.29 L536.03,84.45 L536.51,85.62 L537.03,86.81 L537.59,88.02 L538.20,89.20 L538.87,90.27 L539.62,91.17 L540.47,91.79 L541.41,92.07 L542.44,91.98 L543.47,91.56 L544.43,90.86 L545.28,89.93 L546.06,88.85 L546.80,87.69 L547.58,86.52 L548.41,85.43 L549.30,84.45 L550.24,83.64 L551.22,83.05 L552.23,82.73 L553.26,82.72 L554.29,83.04 L555.30,83.61 L556.27,84.38 L557.19,85.30 L558.02,86.31 L558.76,87.36 L559.41,88.43 L559.99,89.54 L560.51,90.67 L560.98,91.81 L561.41,92.97 L561.82,94.13 L562.22,95.30 L562.61,96.47 L562.99,97.64 L563.36,98.81 L563.73,99.99 L564.09,101.16 L564.44,102.34 L564.78,103.52 L565.12,104.70 L565.46,105.88 L565.78,107.06 L566.10,108.24 L566.42,109.42 L566.73,110.61 L567.04,111.80 L567.34,112.98 L567.64,114.17 L567.93,115.36 L568.22,116.55 L568.50,117.74 L568.78,118.94 L569.06,120.13 L569.34,121.33 L569.61,122.52 L569.88,123.72 L570.15,124.91 L570.42,126.11 L570.68,127.31 L570.95,128.51 L571.21,129.71 L571.47,130.91 L571.73,132.11 L571.99,133.31 L572.25,134.52 L572.51,135.72 L572.77,136.92 L573.03,138.13 L573.29,139.33 L573.55,140.54 L573.81,141.74 L574.07,142.95 L574.33,144.15 L574.59,145.36 L574.85,146.57 L575.11,147.77 L575.36,148.98 L575.62,150.19 L575.87,151.40 L576.13,152.61 L576.38,153.81 L576.64,155.02 L576.89,156.23 L577.14,157.44 L577.39,158.65 L577.64,159.86 L577.89,161.07 L578.14,162.28 L578.38,163.49 L578.63,164.70 L578.87,165.91 L579.11,167.12 L579.36,168.33 L579.59,169.54 L579.83,170.75 L580.07,171.96 L580.30,173.17 L580.53,174.38 L580.77,175.59 L580.99,176.80 L581.22,178.01 L581.45,179.21 L581.67,180.42 L581.89,181.63 L582.11,182.84 L582.33,184.05 L582.54,185.25 L582.76,186.46 L582.97,187.67 L583.17,188.88 L583.38,190.08 L583.58,191.29 L583.78,192.49 L583.98,193.70 L584.17,194.90 L584.37,196.11 L584.56,197.31 L584.74,198.51 L584.93,199.72 L585.11,200.92 L585.29,202.12 L585.46,203.32 L585.63,204.52 L585.80,205.72 L585.97,206.92 L586.14,208.12 L586.31,209.32 L586.48,210.52 L586.65,211.72 L586.83,212.92 L587.01,214.13 L587.20,215.33 L587.40,216.54 L587.61,217.75 L587.83,218.97 L588.06,220.19 L588.30,221.41 L588.56,222.64 L588.84,223.87 L589.13,225.11 L589.44,226.35 L589.78,227.60 L590.13,228.85 L590.50,230.11 L590.90,231.37 L591.32,232.65 L591.78,233.89 L592.26,235.00 L592.79,235.87 L593.36,236.39 L593.99,236.47 L594.64,236.08 L595.25,235.28 L595.79,234.18 L596.27,232.91 L596.72,231.60 L597.14,230.30 L597.53,229.03 L597.90,227.77 L598.25,226.53 L598.57,225.30 L598.89,224.09 L599.18,222.88 L599.46,221.69 L599.73,220.50 L599.99,219.32 L600.24,218.15 L600.48,216.97 L600.73,215.80 L600.97,214.62 L601.20,213.44 L601.44,212.26 L601.68,211.07 L601.93,209.89 L602.17,208.70 L602.42,207.51 L602.67,206.32 L602.92,205.12 L603.18,203.93 L603.44,202.74 L603.71,201.54 L603.98,200.35 L604.26,199.16 L604.55,197.96 L604.84,196.77 L605.14,195.58 L605.46,194.39 L605.78,193.20 L606.11,192.01 L606.45,190.83 L606.80,189.65 L607.16,188.47 L607.54,187.29 L607.93,186.12 L608.33,184.95 L608.74,183.78 L609.17,182.62 L609.62,181.46 L610.07,180.31 L610.55,179.16 L611.04,178.02 L611.55,176.88 L612.08,175.75 L612.64,174.63 L613.22,173.54 L613.84,172.47 L614.51,171.43 L615.23,170.43 L616.00,169.47 L616.83,168.56 L617.73,167.71 L618.69,166.95 L619.70,166.32 L620.74,165.89 L621.81,165.71 L622.89,165.82 L623.96,166.20 L625.01,166.82 L626.02,167.62 L626.98,168.56 L627.86,169.58 L628.66,170.64 L629.37,171.72 L630.00,172.81 L630.57,173.92 L631.09,175.04 L631.58,176.17 L632.04,177.30 L632.48,178.44 L632.92,179.58 L633.34,180.73 L633.76,181.87 L634.17,183.02 L634.57,184.18 L634.96,185.33 L635.34,186.49 L635.72,187.65 L636.08,188.82 L636.44,189.99 L636.80,191.16 L637.14,192.33 L637.48,193.50 L637.81,194.68 L638.14,195.86 L638.45,197.04 L638.77,198.22 L639.07,199.41 L639.37,200.60 L639.67,201.79 L639.96,202.98 L640.24,204.17 L640.52,205.37 L640.80,206.56 L641.07,207.76 L641.33,208.96 L641.59,210.16 L641.85,211.37 L642.11,212.57 L642.36,213.77 L642.60,214.98 L642.85,216.19 L643.09,217.40 L643.33,218.61 L643.56,219.82 L643.80,221.03 L644.03,222.24 L644.26,223.45 L644.48,224.67 L644.71,225.88 L644.94,227.09 L645.16,228.31 L645.38,229.52 L645.60,230.74 L645.82,231.96 L646.05,233.17 L646.27,234.39 L646.49,235.60 L646.71,236.82 L646.93,238.03 L647.15,239.25 L647.38,240.46 L647.60,241.68 L647.83,242.89 L648.05,244.11 L648.28,245.32 L648.51,246.53 L648.75,247.75 L648.98,248.96 L649.22,250.17 L649.46,251.38 L649.70,252.59 L649.95,253.80 L650.20,255.00 L650.45,256.21 L650.71,257.41 L650.97,258.61 L651.24,259.82 L651.51,261.02 L651.78,262.21 L652.06,263.41 L652.34,264.61 L652.63,265.80 L652.92,266.99 L653.22,268.18 L653.53,269.37 L653.84,270.56 L654.16,271.74 L654.48,272.92 L654.81,274.10 L655.15,275.28 L655.49,276.46 L655.84,277.63 L656.20,278.80" fill="none" stroke="#10108f" stroke-width="2.0" stroke-linejoin="round" stroke-linecap="round" />
<line x1="435.4" y1="279.0" x2="452.6" y2="180.0" stroke="#111" stroke-width="1.6" stroke-dasharray="4,2.5"/>
<line x1="487.4" y1="117.3" x2="501.6" y2="84.0" stroke="#111" stroke-width="1.3" stroke-dasharray="4,2.5"/>
<line x1="482.6" y1="124.0" x2="499.0" y2="108.8" stroke="#111" stroke-width="1.6" stroke-dasharray="4,2.5"/>
<circle cx="486.0" cy="119.0" r="2.45" fill="#b61f27"/>
<circle cx="540.7" cy="92.6" r="2.45" fill="#b61f27"/>
<circle cx="593.8" cy="237.1" r="2.45" fill="#b61f27"/>
<text x="447.0" y="87.9" font-family="&quot;Liberation Serif&quot;, serif" font-size="13" font-weight="normal" text-anchor="start" fill="#1c1c1c" >2.15GPa</text>
<text x="503.0" y="121.5" font-family="&quot;Liberation Serif&quot;, serif" font-size="13" font-weight="normal" text-anchor="start" fill="#1c1c1c" >0.65GPa</text>
<text x="448.0" y="237.6" font-family="&quot;Liberation Serif&quot;, serif" font-size="13" font-weight="normal" text-anchor="start" fill="#1c1c1c" >4.467GPa</text>
<text x="473.3" y="134.6" font-family="&quot;Liberation Serif&quot;, serif" font-size="13.3" font-weight="bold" text-anchor="start" fill="#b61f27" >CSF</text>
<text x="527.3" y="106.3" font-family="&quot;Liberation Serif&quot;, serif" font-size="13.3" font-weight="bold" text-anchor="start" fill="#b61f27" >APB</text>
<text x="580.1" y="251.2" font-family="&quot;Liberation Serif&quot;, serif" font-size="13.3" font-weight="bold" text-anchor="start" fill="#b61f27" >SISF</text>
</svg>
</body></html>
